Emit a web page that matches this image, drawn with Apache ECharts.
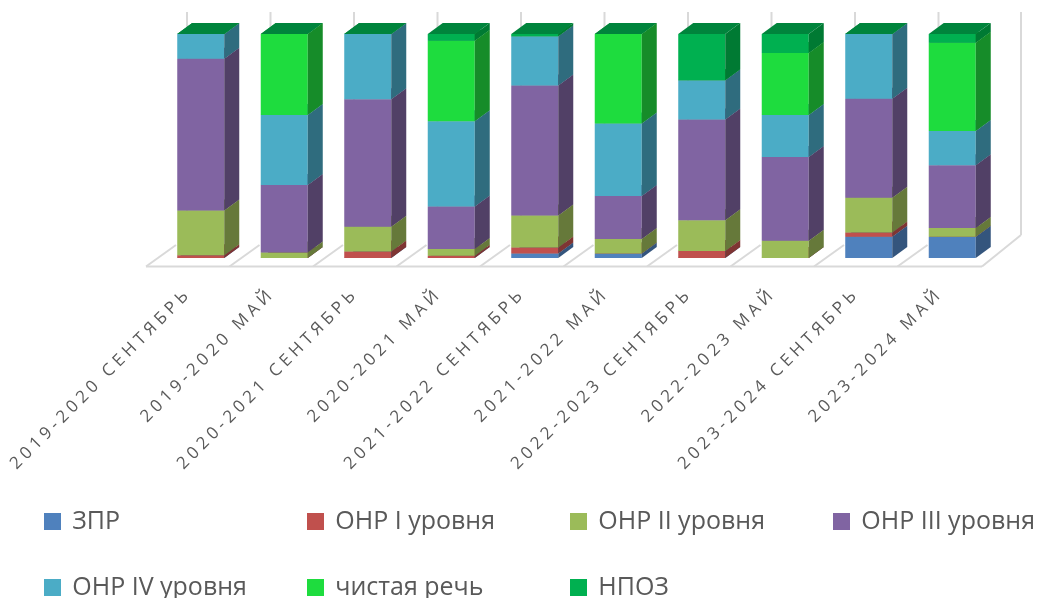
<!DOCTYPE html>
<html>
<head>
<meta charset="utf-8">
<script src="https://cdn.jsdelivr.net/npm/echarts@6/dist/echarts.min.js"></script>
<style>
  html, body { margin: 0; padding: 0; background: #fff; }
  #main { width: 1056px; height: 598px; }
</style>
</head>
<body>
<div id="main"></div>
<script>
// categories (school year + month)
var categories = ['2019-2020 СЕНТЯБРЬ', '2019-2020 МАЙ', '2020-2021 СЕНТЯБРЬ', '2020-2021 МАЙ',
    '2021-2022 СЕНТЯБРЬ', '2021-2022 МАЙ', '2022-2023 СЕНТЯБРЬ', '2022-2023 МАЙ',
    '2023-2024 СЕНТЯБРЬ', '2023-2024 МАЙ'];

// shares, %
var zpr   = [0,    0,    0,    0,  2,    2,    0,    0,    9.5,  9.5];
var onr1  = [1.2,  0,    2.9,  1,  2.7,  0,    3.1,  0,    1.9,  0];
var onr2  = [20,   2.5,  11,   3,  14.3, 6.5,  13.7, 7.7,  15.5, 3.9];
var onr3  = [67.7, 30.1, 57,   19, 58,   19.2, 45,   37.4, 44.2, 28];
var onr4  = [11.1, 31.2, 29.1, 38, 22,   32.3, 17.5, 18.7, 28.9, 15.3];
var clean = [0,    36.2, 0,    36, 0,    40,   0,    27.7, 0,    39.4];
var npoz  = [0,    0,    0,    3,  1,    0,    20.7, 8.5,  0,    3.9];

var seriesNames = ['ЗПР', 'ОНР I уровня', 'ОНР II уровня', 'ОНР III уровня', 'ОНР IV уровня', 'чистая речь', 'НПОЗ'];
var seriesData = [zpr, onr1, onr2, onr3, onr4, clean, npoz];

// front / side / top colours
var colors = [
    ['#4f81bd', '#34557d', '#3f6797'],
    ['#c0504d', '#7f3533', '#9a403e'],
    ['#9bbb59', '#66793a', '#7d9747'],
    ['#8064a2', '#514066', '#675183'],
    ['#4bacc6', '#2f6c7e', '#3c8a9f'],
    ['#1edc3e', '#168c29', '#189f32'],
    ['#00b050', '#007a33', '#00843c']
];

var DX = 15, DY = -11;     // depth offset of the boxes
var BAR_FRAC = 0.563;      // bar width / category band
var WALL = '#d9d9d9';

// totals for the 100% stack
var totals = categories.map(function (c, i) {
    return seriesData.reduce(function (s, arr) { return s + arr[i]; }, 0);
});

function boxRenderer(k) {
    return function (params, api) {
        var i = api.value(0);
        var p0 = api.coord([i, api.value(1)]);
        var p1 = api.coord([i, api.value(2)]);
        var bw = api.size([1, 0])[0] * BAR_FRAC;
        var x0 = p0[0] - bw / 2, x1 = p0[0] + bw / 2, yb = p0[1], yt = p1[1];
        return {
            type: 'group',
            children: [
                { type: 'rect', shape: { x: x0, y: yt, width: bw, height: yb - yt }, style: { fill: colors[k][0] } },
                { type: 'polygon', shape: { points: [[x1, yb], [x1 + DX, yb + DY], [x1 + DX, yt + DY], [x1, yt]] }, style: { fill: colors[k][1] } },
                { type: 'polygon', shape: { points: [[x0, yt], [x1, yt], [x1 + DX, yt + DY], [x0 + DX, yt + DY]] }, style: { fill: colors[k][2] } }
            ]
        };
    };
}

var series = seriesData.map(function (arr, k) {
    var data = categories.map(function (c, i) {
        var lo = 0;
        for (var j = 0; j < k; j++) lo += seriesData[j][i];
        return [i, lo / totals[i] * 100, (lo + arr[i]) / totals[i] * 100];
    });
    return {
        name: seriesNames[k],
        type: 'custom',
        renderItem: boxRenderer(k),
        itemStyle: { color: colors[k][0] },
        encode: { x: 0, y: [1, 2] },
        z: 10 + k,
        data: data
    };
});

// floor and walls
series.push({
    type: 'custom',
    silent: true,
    z: 1,
    encode: { x: 0 },
    data: categories.map(function (c, i) { return [i]; }),
    renderItem: function (params, api) {
        var i = api.value(0);
        var band = api.size([1, 0])[0];
        var b = api.coord([i, 0]);
        var t = api.coord([i, 100]);
        var bx = b[0] - band / 2, y0 = b[1], yTop = t[1];
        var ls = { stroke: WALL, lineWidth: 2 };
        var kids = [
            { type: 'line', shape: { x1: bx - 13, y1: y0 + 8.5, x2: bx + 17, y2: y0 - 13 }, style: ls },
            { type: 'line', shape: { x1: bx + 28, y1: y0 - 13, x2: bx + 28, y2: yTop - 22 }, style: ls }
        ];
        if (i === categories.length - 1) {
            var rx = b[0] + band / 2;
            var first = api.coord([0, 0])[0] - band / 2;
            kids.push({ type: 'line', shape: { x1: first - 13, y1: y0 + 8.5, x2: rx - 12, y2: y0 + 8.5 }, style: ls });
            kids.push({ type: 'line', shape: { x1: rx - 12, y1: y0 + 8.5, x2: rx + 27, y2: y0 - 23 }, style: ls });
            kids.push({ type: 'line', shape: { x1: rx + 27, y1: y0 - 23, x2: rx + 27, y2: yTop - 22 }, style: ls });
        }
        return { type: 'group', children: kids };
    }
});

var myChart = echarts.init(document.getElementById('main'));

var option = {
    animation: false,
    grid: { left: 159, right: 62, top: 34, bottom: 340 },
    xAxis: {
        type: 'category',
        data: categories,
        axisLine: { show: false },
        axisTick: { show: false },
        splitLine: { show: false },
        axisLabel: {
            interval: 0,
            rotate: 45,
            margin: 21,
            color: '#595959',
            fontFamily: 'Open Sans',
            fontSize: 17,
            // Excel spreads the letters a bit
            formatter: function (v) { return v.split('').join('\u2005') + '\u2005\u2005\u2005\u2005\u2005'; }
        }
    },
    yAxis: {
        type: 'value',
        min: 0,
        max: 100,
        show: false,
        splitLine: { show: false }
    },
    legend: {
        data: seriesNames,
        left: 39,
        top: 504,
        width: 1030,
        icon: 'rect',
        itemWidth: 17,
        itemHeight: 17,
        itemGap: 41,
        formatter: function (name) { return '\u2005' + name; },
        textStyle: {
            color: '#595959',
            fontFamily: 'Open Sans',
            fontSize: 25,
            width: 200,
            lineHeight: 14
        }
    },
    series: series
};

myChart.setOption(option);
</script>
</body>
</html>
